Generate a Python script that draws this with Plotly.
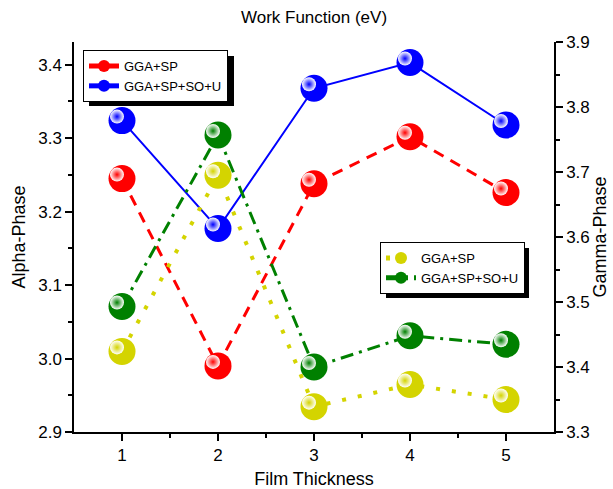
import plotly.graph_objects as go

# ---------------- data ----------------
film_thickness = [1, 2, 3, 4, 5]
alpha_gga_sp = [3.245, 2.990, 3.238, 3.302, 3.226]
alpha_gga_sp_so_u = [3.324, 3.177, 3.368, 3.403, 3.318]
gamma_gga_sp = [3.424, 3.695, 3.339, 3.373, 3.350]
gamma_gga_sp_so_u = [3.493, 3.757, 3.400, 3.448, 3.435]
x_ticks = [1, 2, 3, 4, 5]
series_names = ["GGA+SP", "GGA+SP+SO+U"]

FONT = "Liberation Sans, Arial, sans-serif"
RED = "#FF0000"
BLUE = "#0000FF"
YELLOW = "#D4D400"
GREEN = "#008000"

W, H = 613, 489
L, R, T, B = 74, 59, 42, 57
PW, PH = W - L - R, H - T - B

XR = [0.5, 5.5]
Y1R = [2.9, 3.431]
Y2R = [3.3, 3.9]

# highlight offset (pixels) for sphere shine
dx_px, dy_px = 5, 4
dx = dx_px * (XR[1] - XR[0]) / PW
dy1 = dy_px * (Y1R[1] - Y1R[0]) / PH
dy2 = dy_px * (Y2R[1] - Y2R[0]) / PH

fig = go.Figure()

MS = 27


def add_series(x, y, name, color, dash, width, yaxis, legend, hl_yaxis):
    fig.add_trace(go.Scatter(
        x=x, y=y, name=name, mode="lines+markers", yaxis=yaxis, legend=legend,
        line=dict(color=color, width=width, dash=dash),
        marker=dict(size=MS, color=color, line=dict(width=0)),
    ))
    # shine highlight
    fig.add_trace(go.Scatter(
        x=x, y=y, mode="markers", xaxis="x3", yaxis=hl_yaxis, showlegend=False,
        hoverinfo="skip",
        marker=dict(size=14, color="white", line=dict(width=0),
                    gradient=dict(type="radial", color=color)),
    ))


add_series(film_thickness, alpha_gga_sp, series_names[0], RED, "11px,8px", 3, "y", "legend", "y3")
add_series(film_thickness, alpha_gga_sp_so_u, series_names[1], BLUE, "solid", 2, "y", "legend", "y3")
add_series(film_thickness, gamma_gga_sp, series_names[0], YELLOW, "4px,12px", 4, "y2", "legend2", "y4")
add_series(film_thickness, gamma_gga_sp_so_u, series_names[1], GREEN, "13px,6px,3px,6px", 3, "y2", "legend2", "y4")

axis_common = dict(showline=True, linecolor="black", linewidth=1.5, showgrid=False,
                   zeroline=False, ticks="outside", tickcolor="black", tickwidth=1.5,
                   ticklen=7, automargin=False,
                   tickfont=dict(family=FONT, size=17, color="black"))
TITLE_FONT = dict(family=FONT, size=18, color="black")

fig.update_layout(
    width=W, height=H,
    margin=dict(l=L, r=R, t=T, b=B, autoexpand=False),
    paper_bgcolor="white", plot_bgcolor="white",
    font=dict(family=FONT, color="black"),
    title=dict(text="Work Function (eV)", x=0.5, xref="paper", xanchor="center",
               y=1 - 17 / H, yref="container", yanchor="middle",
               font=dict(family=FONT, size=17, color="black")),
    xaxis=dict(range=XR, tickvals=x_ticks, **axis_common,
               minor=dict(ticks="outside", tickvals=[1.5, 2.5, 3.5, 4.5], ticklen=4,
                          tickcolor="black", tickwidth=1.5),
               title=dict(text="Film Thickness", standoff=12, font=TITLE_FONT)),
    xaxis4=dict(range=XR, overlaying="x", side="top", showline=True, linecolor="black",
                linewidth=1.5, ticks="inside", ticklen=7, tickwidth=1.5, tickcolor="black",
                tickvals=x_ticks, showticklabels=False, showgrid=False, zeroline=False,
                automargin=False,
                minor=dict(ticks="inside", tickvals=[1.5, 2.5, 3.5, 4.5], ticklen=4,
                           tickcolor="black", tickwidth=1.5)),
    yaxis=dict(range=Y1R, dtick=0.1, tick0=2.9, tickformat=".1f", **axis_common,
               minor=dict(ticks="outside", dtick=0.05, ticklen=4, tickcolor="black", tickwidth=1.5),
               title=dict(text="Alpha-Phase", standoff=8, font=TITLE_FONT)),
    yaxis2=dict(range=Y2R, dtick=0.1, tick0=3.3, tickformat=".1f", overlaying="y", side="right",
                **axis_common,
                minor=dict(ticks="outside", dtick=0.05, ticklen=4, tickcolor="black", tickwidth=1.5),
                title=dict(text="Gamma-Phase", standoff=1, font=TITLE_FONT)),
    xaxis3=dict(range=[XR[0] + dx, XR[1] + dx], overlaying="x", visible=False),
    yaxis3=dict(range=[Y1R[0] - dy1, Y1R[1] - dy1], overlaying="y", visible=False),
    yaxis4=dict(range=[Y2R[0] - dy2, Y2R[1] - dy2], overlaying="y", visible=False),
    legend=dict(x=(83 - L) / PW, y=(H - B - 50) / PH, xanchor="left", yanchor="top",
                bgcolor="white", bordercolor="black", borderwidth=1,
                font=dict(family=FONT, size=13, color="black"),
                tracegroupgap=0, itemwidth=30, itemsizing="constant"),
    legend2=dict(x=(380 - L) / PW, y=(H - B - 242) / PH, xanchor="left", yanchor="top",
                 bgcolor="white", bordercolor="black", borderwidth=1,
                 font=dict(family=FONT, size=13, color="black"),
                 tracegroupgap=0, itemwidth=30, itemsizing="constant"),
    showlegend=True,
)


def px_x(p):
    return (p - L) / PW


def px_y(p):
    return (H - B - p) / PH


# legend drop shadows (paper coords), offset ~6 px right/down
fig.add_shape(type="rect", xref="paper", yref="paper",
              x0=px_x(89), x1=px_x(234), y0=px_y(106), y1=px_y(56),
              fillcolor="black", line=dict(width=0), layer="above")
fig.add_shape(type="rect", xref="paper", yref="paper",
              x0=px_x(386), x1=px_x(529), y0=px_y(298), y1=px_y(248),
              fillcolor="black", line=dict(width=0), layer="above")

fig.write_html("out.html", config={"displayModeBar": False},
               post_script="document.body.style.margin='0';document.body.style.overflow='hidden';")
